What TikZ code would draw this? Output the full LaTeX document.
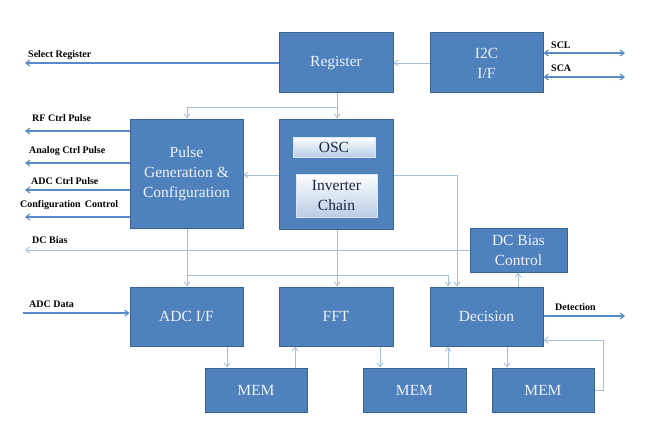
\documentclass[tikz,border=0pt]{standalone}
\usepackage{fontspec}
\setmainfont{Liberation Serif}
\usetikzlibrary{arrows.meta}
\definecolor{boxfill}{HTML}{4F81BD}
\definecolor{boxedge}{HTML}{3A6190}
\definecolor{boxtext}{HTML}{EEF3FA}
\definecolor{sigline}{HTML}{5A8AC6}
\definecolor{inline}{HTML}{A8BDD8}
\definecolor{innertext}{HTML}{1B2540}
\tikzset{
  blk/.style={draw=boxedge, line width=1pt, fill=boxfill, text=boxtext, font=\fontsize{15.5}{20}\selectfont, align=center, inner sep=0pt},
  inner/.style={draw=white!80!boxfill, line width=0.8pt, top color=white, bottom color=boxfill!40, text=innertext, font=\fontsize{15.5}{20}\selectfont, align=center, inner sep=0pt},
  sig/.style={draw=sigline, line width=1.1pt, -{Straight Barb[length=4pt,width=6pt]}},
  sigb/.style={draw=sigline, line width=1.1pt, {Straight Barb[length=4pt,width=6pt]}-{Straight Barb[length=4pt,width=6pt]}},
  int/.style={draw=inline, line width=0.9pt, -{Straight Barb[length=4pt,width=6pt]}},
  lbl/.style={font=\bfseries\fontsize{10}{12}\selectfont, anchor=west, inner sep=0pt, text=black}
}
\begin{document}
\begin{tikzpicture}[x=1pt,y=-1pt]
\useasboundingbox (0,0) rectangle (671,433);
% blocks
\node[blk, minimum width=114pt, minimum height=60pt] (reg) at (336,63) {Register};
\node[blk, minimum width=113pt, minimum height=60pt] (i2c) at (486.5,63) {I2C\\I/F};
\node[blk, minimum width=113pt, minimum height=109pt] (pulse) at (186.5,173.5) {Pulse\\Generation \&\\Configuration};
\node[blk, minimum width=114pt, minimum height=110pt] (oscbox) at (336,174) {};
\node[inner, minimum width=82pt, minimum height=20pt] (osc) at (334,147) {OSC};
\node[inner, minimum width=81pt, minimum height=43pt] (inv) at (336.5,195.5) {Inverter\\Chain};
\node[blk, minimum width=97pt, minimum height=44pt] (dcb) at (518.5,250) {DC Bias\\Control};
\node[blk, minimum width=113pt, minimum height=59pt] (adc) at (186.5,316.5) {ADC I/F};
\node[blk, minimum width=114pt, minimum height=59pt] (fft) at (336,316.5) {FFT};
\node[blk, minimum width=113pt, minimum height=59pt] (dec) at (486.5,316.5) {Decision};
\node[blk, minimum width=102pt, minimum height=44pt] (mem1) at (256,390) {MEM};
\node[blk, minimum width=103pt, minimum height=44pt] (mem2) at (414.5,390) {MEM};
\node[blk, minimum width=102pt, minimum height=44pt] (mem3) at (543,390) {MEM};
% free ends
\coordinate (selR) at (25,63);
\coordinate (sclR) at (625,53);
\coordinate (scaR) at (625,77);
\coordinate (rfL) at (25,131);
\coordinate (anL) at (25,163);
\coordinate (adcL) at (25,190);
\coordinate (cfgL) at (25,217);
\coordinate (dcL) at (25,250);
\coordinate (adL) at (23,313);
\coordinate (detR) at (625,316);
% labels
\node[lbl] (tsel) at (28,55) {Select Register};
\node[lbl] (tscl) at (551,45) {SCL};
\node[lbl] (tsca) at (551,68) {SCA};
\node[lbl] (trf) at (32,118) {RF Ctrl Pulse};
\node[lbl] (tan) at (29,151) {Analog Ctrl Pulse};
\node[lbl] (tadc) at (31,181) {ADC Ctrl Pulse};
\node[lbl] (tcfg) at (20,205) {Configuration\, Control};
\node[lbl] (tdc) at (32,240) {DC Bias};
\node[lbl] (tad) at (29,304) {ADC Data};
\node[lbl] (tdet) at (555,307) {Detection};
% connectors
\draw[int] (i2c.west) -- (reg.east);
\draw[sig] (reg.west) -- (selR);
\draw[sigb] (i2c.east |- sclR) -- (sclR);
\draw[sigb] (i2c.east |- scaR) -- (scaR);
\draw[int] (reg.south -| 337,0) -- (oscbox.north -| 337,0);
\draw[int] (337,107) -| (pulse.north -| 187,0);
\draw[int] (oscbox.west |- 0,175) -- (pulse.east |- 0,175);
\draw[int] (oscbox.east |- 0,175) -| (dec.north -| 457,0);
\draw[sig] (pulse.west |- rfL) -- (rfL);
\draw[sig] (pulse.west |- anL) -- (anL);
\draw[sig] (pulse.west |- adcL) -- (adcL);
\draw[sig] (pulse.west |- cfgL) -- (cfgL);
\draw[int] (dcb.west) -- (dcL);
\draw[int] (pulse.south -| 187,0) -- (adc.north -| 187,0);
\draw[int] (187,275) -| (dec.north -| 448,0);
\draw[int] (oscbox.south -| 337,0) -- (fft.north -| 337,0);
\draw[int] (dec.north -| 518,0) -- (dcb.south -| 518,0);
\draw[sig] (adL) -- (adc.west |- adL);
\draw[sig] (dec.east |- detR) -- (detR);
\draw[int] (adc.south -| 227,0) -- (mem1.north -| 227,0);
\draw[int] (mem1.north -| 295,0) -- (fft.south -| 295,0);
\draw[int] (fft.south -| 380,0) -- (mem2.north -| 380,0);
\draw[int] (mem2.north -| 448,0) -- (dec.south -| 448,0);
\draw[int] (dec.south -| 507,0) -- (mem3.north -| 507,0);
\draw[int] (mem3.east) -- (603,390) -- (603,340) -- (dec.east |- 0,340);
\end{tikzpicture}
\end{document}
